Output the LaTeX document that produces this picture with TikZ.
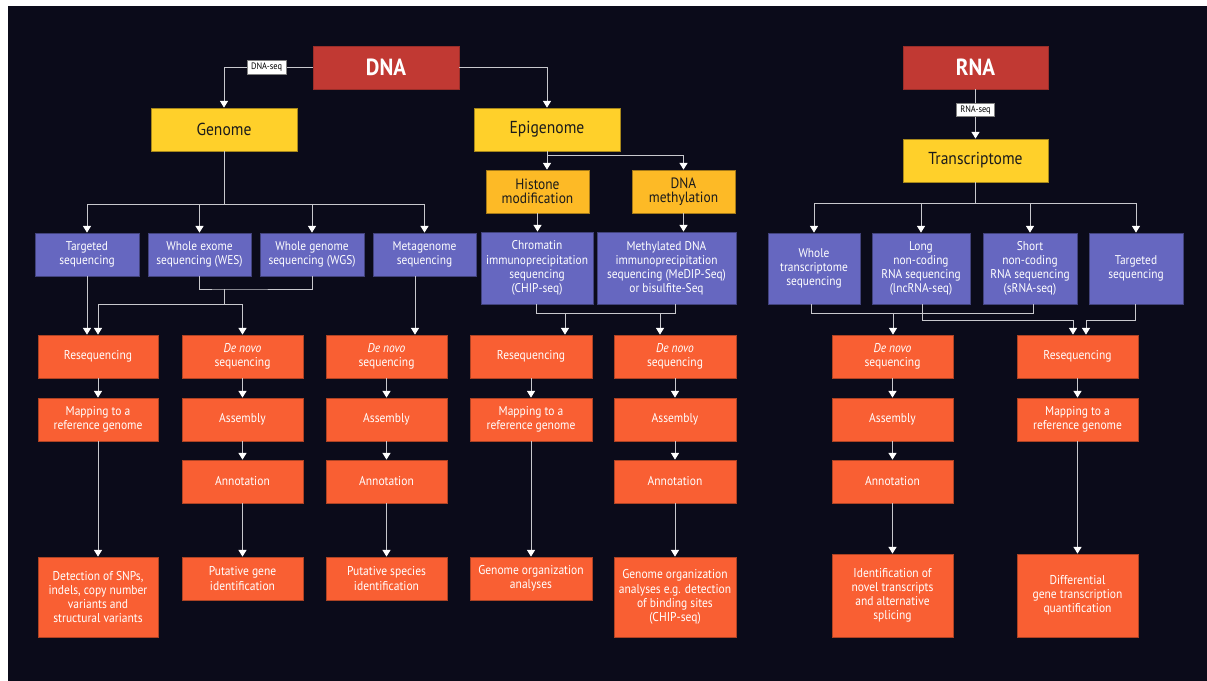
\documentclass[tikz,border=0pt]{standalone}
\usepackage{fontspec}
\setmainfont{PT Sans}[FakeStretch=0.9]
\usetikzlibrary{arrows.meta}
\definecolor{bg}{RGB}{11,11,26}
\definecolor{redb}{RGB}{193,57,51}
\definecolor{yel}{RGB}{255,208,42}
\definecolor{yeltwo}{RGB}{253,186,38}
\definecolor{pur}{RGB}{102,103,192}
\definecolor{org}{RGB}{249,95,51}
\definecolor{lineclr}{RGB}{200,200,205}
\definecolor{darktxt}{RGB}{27,27,27}
\newcommand\bx[7]{\node[#6, minimum width={(#4-#2)*0.75pt}, minimum height={(#5-#3)*0.75pt}] (#1) at ({(#2+#4)/2},{(#3+#5)/2}) {#7};}
\tikzset{
  base/.style={rectangle, inner sep=0pt, align=center, draw, line width=0.6pt},
  redbox/.style={base, fill=redb, draw=redb!80!black, text=white, font=\fontsize{17.5}{19}\selectfont\bfseries},
  ybox/.style={base, fill=yel, draw=yel!65!black, text=darktxt, font=\fontsize{13}{14}\selectfont},
  ybtwo/.style={base, fill=yeltwo, draw=yeltwo!65!black, text=darktxt, font=\fontsize{11.2}{10.8}\selectfont},
  pbox/.style={base, fill=pur, draw=pur!65!black, text=white, font=\fontsize{9.5}{10.6}\selectfont},
  obox/.style={base, fill=org, draw=org!70!black, text=white, font=\fontsize{9.6}{10.6}\selectfont},
  lbl/.style={rectangle, fill=white, draw=gray, text=black, font=\fontsize{7}{8}\selectfont, inner xsep=3pt, inner ysep=1.5pt, minimum height=10pt},
  ln/.style={draw=lineclr, line width=0.75pt},
  ar/.style={ln, -{Triangle[width=6pt,length=5pt,white]}}
}
\begin{document}
\begin{tikzpicture}[x=0.75pt, y=-0.75pt]
\useasboundingbox (0,0) rectangle (1207,681);
\fill[white] (0,0) rectangle (1207,681);
\fill[bg] (8,6) rectangle (1207,681);

% top
\bx{dna}{313}{46}{459}{89}{redbox}{DNA}
\bx{rna}{903}{46}{1048}{89}{redbox}{RNA}
\bx{genome}{151}{108}{297}{151}{ybox}{Genome}
\bx{epi}{474}{108}{620}{151}{ybox}{Epigenome}
\bx{trans}{903}{139}{1048}{182}{ybox}{Transcriptome}
\bx{hist}{486}{170}{589}{213}{ybtwo}{Histone\\modification}
\bx{meth}{632}{170}{735}{213}{ybtwo}{DNA\\methylation}

% purple
\bx{tseq}{35}{233}{139}{276}{pbox}{Targeted\\sequencing}
\bx{wes}{148}{233}{251}{276}{pbox}{Whole exome\\sequencing (WES)}
\bx{wgs}{260}{233}{364}{276}{pbox}{Whole genome\\sequencing (WGS)}
\bx{meta}{373}{233}{476}{276}{pbox}{Metagenome\\sequencing}
\bx{chip}{481}{232}{593}{304}{pbox}{Chromatin\\immunoprecipitation\\sequencing\\(CHIP-seq)}
\bx{medip}{597}{232}{736}{304}{pbox}{Methylated DNA\\immunoprecipitation\\sequencing (MeDIP-Seq)\\or bisulfite-Seq}
\bx{wt}{768}{233}{860}{304}{pbox}{Whole\\transcriptome\\sequencing}
\bx{lncs}{872}{233}{970}{304}{pbox}{Long\\non-coding\\RNA sequencing\\(lncRNA-seq)}
\bx{snc}{983}{233}{1077}{304}{pbox}{Short\\non-coding\\RNA sequencing\\(sRNA-seq)}
\bx{trs}{1089}{233}{1183}{304}{pbox}{Targeted\\sequencing}

% orange row 1
\bx{rs1}{38}{335}{158}{378}{obox}{Resequencing}
\bx{dn1}{182}{335}{303}{378}{obox}{\textit{De novo}\\sequencing}
\bx{dn2}{326}{335}{447}{378}{obox}{\textit{De novo}\\sequencing}
\bx{rs2}{470}{335}{592}{378}{obox}{Resequencing}
\bx{dn3}{614}{335}{736}{378}{obox}{\textit{De novo}\\sequencing}
\bx{dn4}{832}{335}{953}{378}{obox}{\textit{De novo}\\sequencing}
\bx{rs3}{1017}{335}{1138}{378}{obox}{Resequencing}

% orange row 2
\bx{mp1}{38}{398}{158}{441}{obox}{Mapping to a\\reference genome}
\bx{as1}{182}{398}{303}{441}{obox}{Assembly}
\bx{as2}{326}{398}{447}{441}{obox}{Assembly}
\bx{mp2}{470}{398}{592}{441}{obox}{Mapping to a\\reference genome}
\bx{as3}{614}{398}{736}{441}{obox}{Assembly}
\bx{as4}{832}{398}{953}{441}{obox}{Assembly}
\bx{mp3}{1017}{398}{1138}{441}{obox}{Mapping to a\\reference genome}

% orange row 3
\bx{an1}{182}{460}{303}{503}{obox}{Annotation}
\bx{an2}{326}{460}{447}{503}{obox}{Annotation}
\bx{an3}{614}{460}{736}{503}{obox}{Annotation}
\bx{an4}{832}{460}{953}{503}{obox}{Annotation}

% results
\bx{res1}{38}{557}{158}{637}{obox}{Detection of SNPs,\\indels, copy number\\variants and\\structural variants}
\bx{res2}{182}{557}{303}{600}{obox}{Putative gene\\identification}
\bx{res3}{326}{557}{447}{600}{obox}{Putative species\\identification}
\bx{res4}{470}{557}{592}{600}{obox}{Genome organization\\analyses}
\bx{res5}{614}{557}{736}{637}{obox}{Genome organization\\analyses e.g. detection\\of binding sites\\(CHIP-seq)}
\bx{res6}{832}{554}{953}{637}{obox}{Identification of\\novel transcripts\\and alternative\\splicing}
\bx{res7}{1017}{554}{1138}{637}{obox}{Differential\\gene transcription\\quantification}

% top connectors
\draw[ar] (dna.west) -| node[lbl, pos=0.26]{DNA-seq} (genome.north);
\draw[ar] (dna.east) -| (epi.north);
\draw[ar] (rna.south) -- node[lbl, pos=0.42]{RNA-seq} (trans.north);
\draw[ar] (epi.south) -- (epi.south |- hist.north);
\draw[ar] (epi.south) -- ++(0,4) -| (meth.north);
\draw[ar] (hist.south) -- (hist.south |- chip.north);
\draw[ar] (meth.south) -- (meth.south |- medip.north);

\draw[ln] (genome.south) -- ++(0,53) coordinate (gf);
\foreach \n in {tseq,wes,wgs,meta} \draw[ar] (gf) -| (\n.north);
\draw[ln] (trans.south) -- ++(0,21) coordinate (tf);
\foreach \n in {wt,lncs,snc,trs} \draw[ar] (tf) -| (\n.north);

% genome purple -> orange
\draw[ar] (tseq.south) -- (tseq.south |- rs1.north);
\coordinate (j1) at (224,289);
\coordinate (j2) at (224,304);
\draw[ln] (wes.south) |- (j1) -| (wgs.south);
\draw[ln] (j1) -- (j2);
\draw[ar] (j2) -| (rs1.north);
\draw[ar] (j2) -| (dn1.north);
\coordinate (m1) at (415,0);
\draw[ar] (meta.south -| m1) -- (dn2.north -| m1);

% epigenome purple -> orange
\coordinate (c1) at (536,313);
\coordinate (c2) at (675,313);
\coordinate (c3) at (565,313);
\coordinate (c4) at (660,313);
\draw[ln] (chip.south -| c1) -- (c1) -- (c2) -- (medip.south -| c2);
\draw[ar] (c3) -- (c3 |- rs2.north);
\draw[ar] (c4) -- (c4 |- dn3.north);

% transcriptome purple -> orange
\coordinate (r1) at (811,313);
\coordinate (r2) at (1033,313);
\coordinate (r3) at (893,313);
\draw[ln] (wt.south -| r1) -- (r1) -- (r2) -- (snc.south -| r2);
\draw[ar] (r3) -- (r3 |- dn4.north);
\coordinate (r4) at (922,320);
\coordinate (r5) at (1073,320);
\draw[ar] (lncs.south -| r4) -- (r4) -- (r5) -- (r5 |- rs3.north);
\coordinate (r6) at (1135,320);
\coordinate (r7) at (1086,320);
\draw[ar] (trs.south -| r6) -- (r6) -- (r7) -- (r7 |- rs3.north);

% columns
\draw[ar] (rs1) -- (mp1);
\draw[ar] (mp1) -- (res1);
\draw[ar] (dn1) -- (as1);
\draw[ar] (as1) -- (an1);
\draw[ar] (an1) -- (res2);
\draw[ar] (dn2) -- (as2);
\draw[ar] (as2) -- (an2);
\draw[ar] (an2) -- (res3);
\draw[ar] (rs2) -- (mp2);
\draw[ar] (mp2) -- (res4);
\draw[ar] (dn3) -- (as3);
\draw[ar] (as3) -- (an3);
\draw[ar] (an3) -- (res5);
\draw[ar] (dn4) -- (as4);
\draw[ar] (as4) -- (an4);
\draw[ar] (an4) -- (res6);
\draw[ar] (rs3) -- (mp3);
\draw[ar] (mp3) -- (res7);
\end{tikzpicture}
\end{document}
